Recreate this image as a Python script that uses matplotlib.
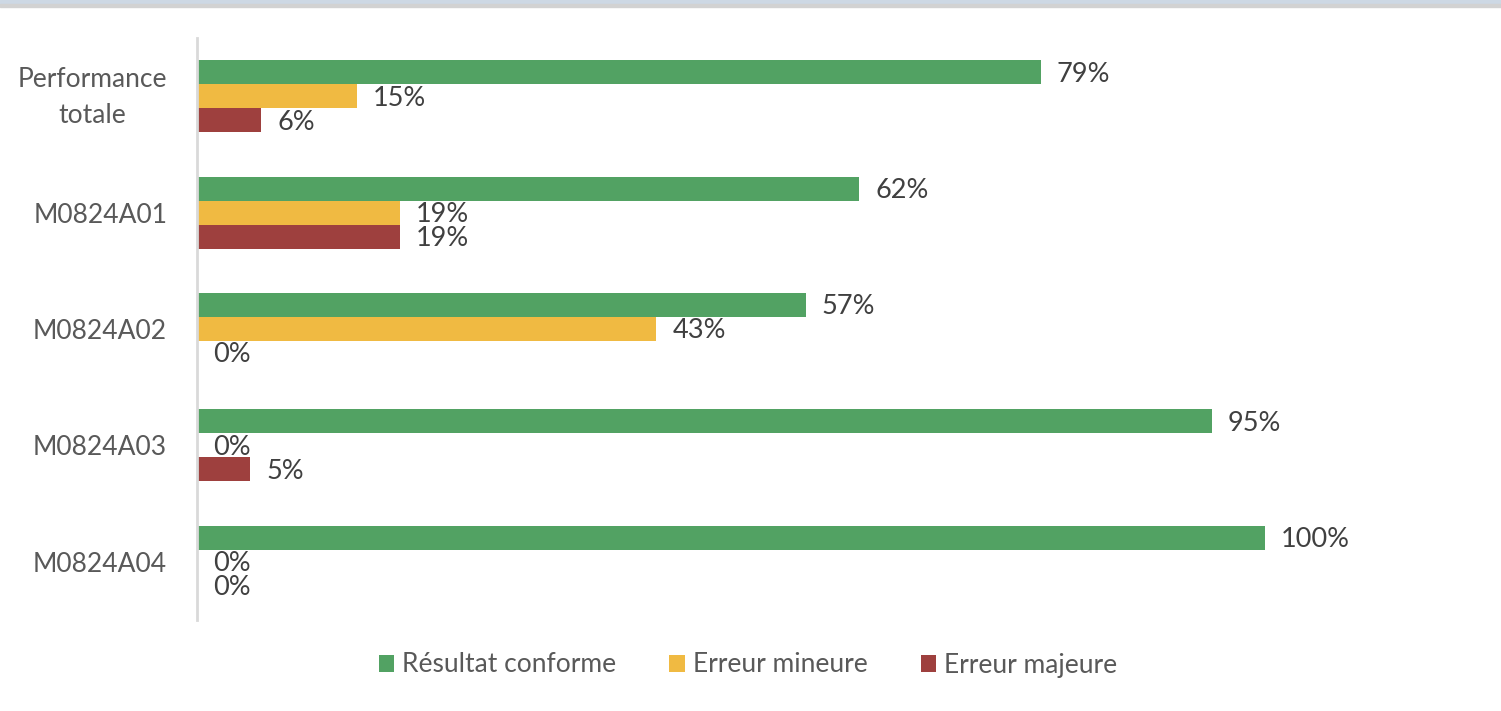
import matplotlib
matplotlib.use("Agg")
import matplotlib.pyplot as plt
from matplotlib.patches import Rectangle
from matplotlib.transforms import ScaledTranslation
import numpy as np

categories = ["Performance\ntotale", "M0824A01", "M0824A02", "M0824A03", "M0824A04"]
series_names = ["Résultat conforme", "Erreur mineure", "Erreur majeure"]
conforme = [79, 62, 57, 95, 100]
mineure = [15, 19, 43, 0, 0]
majeure = [6, 19, 0, 5, 0]
colors = ["#52A263", "#F0BA42", "#9E403E"]

plt.rcParams['font.family'] = ['Lato', 'DejaVu Sans']

W, H = 1501, 711
fig = plt.figure(figsize=(W/100, H/100), dpi=100)

# top border bands
fig.patches.append(Rectangle((0, 1-4/H), 1, 4/H, transform=fig.transFigure, color="#CDD8E4", zorder=0))
fig.patches.append(Rectangle((0, 1-7/H), 1, 3/H, transform=fig.transFigure, color="#D2D2D2", zorder=0))

x0, x1 = 197, 1265
y_top, y_bot = 38, 620
ax = fig.add_axes([x0/W, 1-y_bot/H, (x1-x0)/W, (y_bot-y_top)/H])
ax.set_xlim(0, 100)
n = len(categories)
ax.set_ylim(n - 0.5, -0.5)

bh = 24/116.4
y = np.arange(n)
for i, (vals, c) in enumerate(zip([conforme, mineure, majeure], colors)):
    pos = y + (i-1)*bh
    ax.barh(pos, vals, height=bh, color=c, label=series_names[i])
    for p, v in zip(pos, vals):
        ax.annotate(f"{v}%", xy=(v, p), xytext=(16, -2), textcoords="offset pixels",
                    ha="left", va="center", fontsize=19.5, color="#404040", clip_on=False)

ax.set_yticks(y)
ax.set_yticklabels(categories, fontsize=19, color="#595959", linespacing=1.55)
ax.tick_params(axis='y', length=0, pad=21.5)
ax.set_xticks([])
for s in ["top", "right", "bottom"]:
    ax.spines[s].set_visible(False)
ax.spines["left"].set_color("#D9D9D9")
ax.spines["left"].set_linewidth(2)
for k, lbl in enumerate(ax.get_yticklabels()):
    lbl.set_multialignment("center")
    if "\n" in categories[k]:
        lbl.set_transform(lbl.get_transform() + ScaledTranslation(0, 7/100, fig.dpi_scale_trans))

leg = fig.legend(loc="center", bbox_to_anchor=(748/W, 1-665/H), ncol=3, frameon=False,
                 fontsize=19, handlelength=0.6, handleheight=0.6, handletextpad=0.3, columnspacing=2.0)
for t in leg.get_texts():
    t.set_color("#595959")

fig.savefig("out.png", dpi=100)
